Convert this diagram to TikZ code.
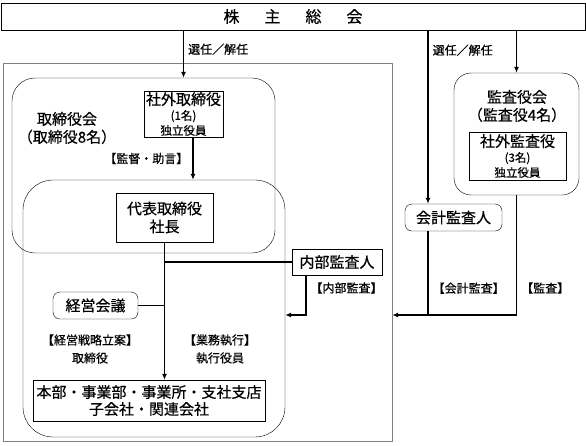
\documentclass[tikz,border=0pt]{standalone}
\usepackage{fontspec}
\setmainfont{Noto Sans CJK JP}[UprightFeatures = {FakeBold = 0.5}]
\usetikzlibrary{positioning, calc, arrows.meta}
\newcommand{\szmain}{\fontsize{15}{18}\selectfont}
\newcommand{\sztag}{\fontsize{12}{18}\selectfont}
\newcommand{\szsmall}{\fontsize{11.5}{13}\selectfont}
\tikzset{%
  block/.style  = {draw, rectangle, inner sep = 0pt, align = center, font = \szmain},
  rblock/.style = {block, rounded corners = 7pt},
  group/.style  = {draw, rectangle, inner sep = 0pt}, % frame
  tag/.style    = {font = \sztag, inner sep = 4pt, align = center}, % label
  link/.style   = {line width = 1.4pt},
  arr/.style    = {link, -{Latex[length = 6pt, width = 5pt]}}
}

\begin{document}
\begin{tikzpicture}[x = 1pt, y = -1pt]
\useasboundingbox[fill = white] (0,0) rectangle (586,445);
%frames
\draw
	(293,16.5) node [group, minimum width = 584pt, minimum height = 27pt,
	  font = \fontsize{16}{18}\selectfont] (gm) {株\hspace{25pt}主\hspace{25pt}総\hspace{25pt}会}
	(197.5,252) node [group, draw = gray, minimum width = 389pt, minimum height = 378pt] (outer) {}
	(143.5,165.5) node [group, rounded corners = 23pt, minimum width = 263pt, minimum height = 175pt] (board) {}
	(154,308.5) node [group, rounded corners = 30pt, minimum width = 262pt, minimum height = 257pt] (exec) {}
	(516.5,134) node [group, rounded corners = 17pt, minimum width = 125pt, minimum height = 122pt] (ab) {};
%blocks
\draw
	(183.5,114) node [block, minimum width = 79pt, minimum height = 46pt] (outdir)
	  {社外取締役\\[-3pt]{\szsmall (1名)}\\[-3pt]{\szsmall 独立役員}}
	(164.5,217.5) node [block, minimum width = 97pt, minimum height = 49pt] (pres) {代表取締役\\社長}
	(337,262) node [block, minimum width = 90pt, minimum height = 26pt] (ia) {内部監査人}
	(95.5,305.5) node [rblock, minimum width = 85pt, minimum height = 27pt] (mm) {経営会議}
	(149,400.5) node [block, minimum width = 232pt, minimum height = 41pt] (hq)
	  {本部・事業部・事業所・支社支店\\[-1pt]子会社・関連会社}
	(453.5,217.5) node [rblock, minimum width = 97pt, minimum height = 27pt] (ca) {会計監査人}
	(517.5,156) node [block, minimum width = 97pt, minimum height = 48pt] (oa)
	  {社外監査役\\[-3pt]{\szsmall (3名)}\\[-3pt]{\szsmall 独立役員}};
%group labels
\node [font = \szmain, align = center] (boardlbl) at (67,128) {取締役会\\（取締役8名）};
\node [font = \szmain, align = center] (ablbl) at (517,106) {監査役会\\（監査役4名）};
\node [tag] (strat) at (90,349) {【経営戦略立案】\\取締役};
\node [tag] (ops) at (220,349) {【業務執行】\\執行役員};
%ports
\coordinate (lvl) at (0,315);
\coordinate (supv) at ([xshift = 9.5pt]outdir.south);
\coordinate (iaout) at ([xshift = 14pt]ia.south west);
\coordinate (cax) at ([xshift = -25.5pt]ca.north);
%lines
\draw[arr] (gm.south -| outdir.north) -- node [tag, right, pos = 0.4] {選任／解任} (board.north -| outdir.north);
\draw[arr] (supv) -- node [tag, left] {【監督・助言】} (exec.north -| supv);
\draw[arr] (pres.south) -- (pres.south |- hq.north);
\draw[link] (pres.south |- ia.west) -- (ia.west);
\draw[link] (mm.east) -- (mm.east -| pres.south);
\draw[arr] (iaout) |- node [tag, right, pos = 0.16] {【内部監査】} (exec.east |- lvl);
\draw[arr] (gm.south -| cax) -- node [tag, right, pos = 0.115] {選任／解任} (cax);
\draw[arr] (gm.south -| ab.north) -- (ab.north);
\draw[link] (ca.south -| cax) -- node [tag, right, pos = 0.68] {【会計監査】} (cax |- lvl);
\draw[arr] (ab.south) -- node [tag, right, pos = 0.775] {【監査】} (ab.south |- lvl) -- (outer.east |- lvl);
\end{tikzpicture}
\end{document}
